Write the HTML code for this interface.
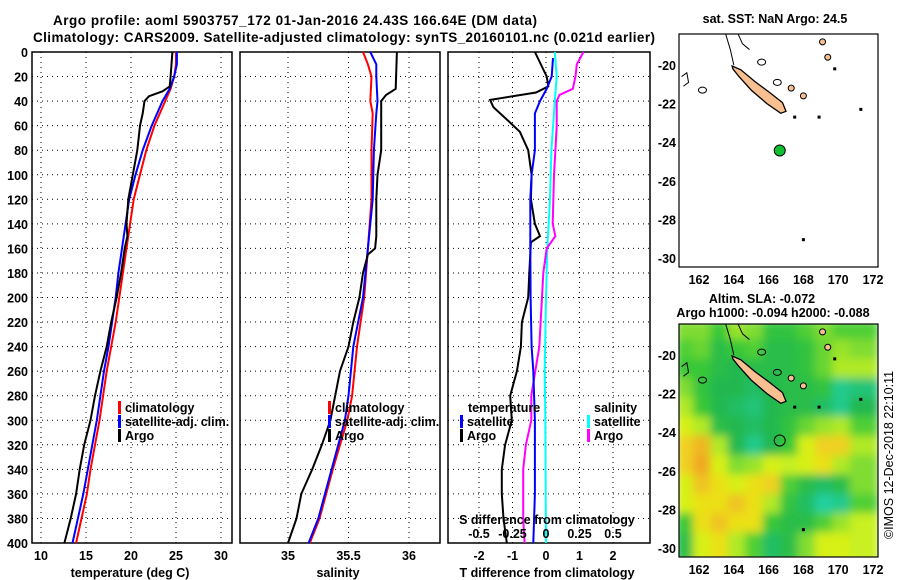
<!DOCTYPE html>
<html><head><meta charset="utf-8"><style>
body{margin:0;background:#fff;}
svg{display:block;font-family:"Liberation Sans",sans-serif;font-weight:bold;}
</style></head><body>
<svg id="c" width="900" height="580" viewBox="0 0 900 580">
<text x="295" y="25" font-size="13.5" text-anchor="middle" textLength="484">Argo profile: aoml 5903757_172 01-Jan-2016 24.43S 166.64E (DM data)</text>
<text x="344" y="42" font-size="13.5" text-anchor="middle" textLength="622">Climatology: CARS2009. Satellite-adjusted climatology: synTS_20160101.nc (0.021d earlier)</text>
</svg>
<script>
// ---- data ----
const depthTicks=[0,20,40,60,80,100,120,140,160,180,200,220,240,260,280,300,320,340,360,380,400];
const tempTicks=[10,15,20,25,30];
const salTicks=[35,35.5,36];
const tdiffTicks=[-2,-1,0,1,2];
const sdiffTicks=[-0.5,-0.25,0,0.25,0.5];
const tClimDepth=[0,10,20,30,40,60,80,100,120,140,160,180,200,220,240,260,280,300,320,340,360,380,400];
const tClim=[25,25,24.8,24.4,23.8,22.6,21.7,21.0,20.3,19.9,19.5,19.1,18.7,18.3,17.8,17.3,16.9,16.5,16.0,15.5,15.1,14.5,13.9];
const tSat=[25.1,25.1,24.8,24.3,23.5,22.3,21.3,20.5,19.8,19.4,19.0,18.6,18.3,17.9,17.5,17.0,16.6,16.2,15.7,15.2,14.7,14.1,13.5];
const tArgoDepth=[0,20,28,32,36,40,50,60,80,100,120,140,150,160,180,200,220,240,260,280,300,320,340,360,380,400];
const tArgo=[24.6,24.4,24.3,23.5,22.0,21.5,21.3,21.0,20.7,20.2,19.7,19.5,19.6,19.3,18.9,18.4,17.8,17.3,16.6,16.0,15.5,14.8,14.3,13.9,13.3,12.6];
const sClimDepth=[0,10,20,40,50,80,120,160,200,240,280,300,340,380,400];
const sClim=[35.62,35.66,35.69,35.68,35.70,35.69,35.69,35.66,35.63,35.57,35.53,35.49,35.37,35.26,35.18];
const sSat=[35.68,35.73,35.73,35.74,35.73,35.71,35.70,35.66,35.62,35.54,35.50,35.47,35.36,35.25,35.17];
const sArgoDepth=[0,30,35,40,60,80,100,120,150,160,165,180,200,220,240,260,280,300,320,340,360,380,400];
const sArgo=[35.90,35.89,35.81,35.77,35.77,35.77,35.74,35.73,35.73,35.72,35.66,35.62,35.59,35.54,35.50,35.43,35.39,35.35,35.28,35.20,35.11,35.07,35.00];
const dArgoTDepth=[0,20,28,33,39,45,55,65,80,100,120,140,150,155,180,200,220,240,260,280,300,320,340,360,380,400];
const dArgoT=[-0.33,0.02,0.07,-0.3,-1.67,-1.57,-1.17,-0.78,-0.53,-0.43,-0.45,-0.33,-0.18,-0.45,-0.5,-0.53,-0.72,-0.75,-0.87,-1.07,-1.02,-1.22,-1.32,-1.32,-1.27,-1.17];
const dSatTDepth=[5,20,30,40,50,80,100,120,160,200,240,260,300,360,400];
const dSatT=[0.21,0.17,0.02,-0.18,-0.33,-0.33,-0.43,-0.47,-0.47,-0.46,-0.43,-0.38,-0.33,-0.33,-0.38];
const dSatSDepth=[0,20,40,80,120,160,200,260,300,400];
const dSatS=[0.066,0.08,0.066,0.04,0.03,0.01,0.0,-0.01,-0.005,0.0];
const dArgoSDepth=[0,10,20,30,35,40,60,80,100,140,150,160,180,200,240,260,280,300,320,340,360,380,400];
const dArgoS=[0.28,0.23,0.22,0.2,0.1,0.08,0.08,0.07,0.06,0.05,0.07,0.005,-0.02,-0.03,-0.05,-0.08,-0.11,-0.11,-0.15,-0.17,-0.17,-0.17,-0.16];
const latTicks=[-20,-22,-24,-26,-28,-30];
const lonTicks=[162,164,166,168,170,172];
const argoLon=166.64, argoLat=-24.43;
const slaLats=[-19,-20,-21,-22,-23,-24,-25,-26,-27,-28,-29,-30];
const slaLons=[161.5,162.5,163.5,164.5,165.5,166.5,167.5,168.5,169.5,170.5,171.5];
const slaRows=[
[0.75,0.75,0.6,0.8,0.75,0.55,0.55,0.65,0.75,0.65,0.65],
[0.65,0.7,0.5,0.6,0.65,0.5,0.5,0.55,0.7,0.8,0.75],
[0.6,0.6,0.5,0.45,0.5,0.5,0.5,0.55,0.7,0.85,0.85],
[0.75,0.55,0.45,0.45,0.4,0.45,0.5,0.5,0.55,0.3,0.35],
[0.85,0.6,0.45,0.4,0.35,0.45,0.5,0.5,0.4,0.3,0.45],
[0.95,0.85,0.5,0.45,0.4,0.45,0.55,0.7,0.8,0.85,0.65],
[1.1,1.2,0.85,0.45,0.3,0.45,0.6,0.95,1.1,1.1,0.85],
[1.1,1.3,0.95,0.75,0.8,0.95,0.9,0.95,1.05,0.85,0.75],
[0.95,1.15,1.05,0.95,1.05,1.1,0.65,0.5,0.4,0.5,0.75],
[0.95,1.05,1.05,1.15,1.05,0.85,0.55,0.4,0.25,0.3,0.65],
[0.6,1.05,1.15,1.05,1.05,0.6,0.5,0.5,0.65,0.8,0.9],
[0.5,0.95,1.05,0.85,0.65,0.4,0.5,0.75,0.95,0.95,0.9]];
const ncLons=[163.9,164.4,165.2,166.1,166.8,167.0,166.7,165.9,165.0,164.3,163.95];
const ncLats=[-20.05,-20.25,-20.85,-21.45,-21.95,-22.4,-22.5,-22.0,-21.3,-20.6,-20.2];

// ---- helpers ----
const NS="http://www.w3.org/2000/svg";
const svg=document.getElementById('c');
function mk(tag,attrs,parent){const e=document.createElementNS(NS,tag);for(const k in attrs)e.setAttribute(k,attrs[k]);(parent||svg).appendChild(e);return e;}
function txt(x,y,s,size,anchor,parent){const t=mk('text',{x:x,y:y,'font-size':size,'text-anchor':anchor||'middle'},parent);t.textContent=s;return t;}
const yD=d=>52+d*491/400;
const TOP=52,BOT=543;
const xT=v=>41+(v-10)*9;
const xS=v=>288+(v-35)*121;
const xDT=v=>546+v*33.5;
const xDS=v=>546+v*134;

function panel(x0,x1,name){
  const r=mk('rect',{x:x0,y:TOP,width:x1-x0,height:BOT-TOP,fill:'#fff',stroke:'#000','stroke-width':1.5});
  
  
  depthTicks.forEach(d=>{if(d>0&&d<400){const l=mk('line',{x1:x0,x2:x1,y1:yD(d),y2:yD(d),stroke:'#000','stroke-width':1,'stroke-dasharray':'1,4'});
    
    }});
}
function vgrid(xs,f){xs.forEach(v=>{const l=mk('line',{x1:f(v),x2:f(v),y1:TOP,y2:BOT,stroke:'#000','stroke-width':1,'stroke-dasharray':'1,4'});
  
  });}
function series(depths,vals,f,color,name){
  const pts=depths.map((d,i)=>f(vals[i]).toFixed(1)+','+yD(d).toFixed(1)).join(' ');
  const p=mk('polyline',{points:pts,fill:'none',stroke:color,'stroke-width':2});
  
  
}
function legend(x,y,color,label,name){
  const g=mk('g',{});
  
  
  mk('rect',{x:x,y:y-11,width:3,height:13,fill:color},g);
  txt(x+7,y,label,12.5,'start',g);
}

// panel 1 temperature
panel(32,232,'temperature-panel');
vgrid(tempTicks,xT);
series(tClimDepth,tClim,xT,'#f00','temp-climatology-line');
series(tClimDepth,tSat,xT,'#00f','temp-satellite-line');
series(tArgoDepth,tArgo,xT,'#000','temp-argo-line');
depthTicks.forEach(d=>{const t=txt(28,yD(d)+5,String(d),12.5,'end');
  
  });
tempTicks.forEach(v=>{const t=txt(xT(v),560,String(v),12.5);
  
  });
{const t=txt(130,577,'temperature (deg C)',12.5);}
legend(118,412,'#f00','climatology','legend-climatology');
legend(118,426,'#00f','satellite-adj. clim.','legend-satellite');
legend(118,440,'#000','Argo','legend-argo');

// panel 2 salinity
panel(240,440,'salinity-panel');
vgrid(salTicks,xS);
series(sClimDepth,sClim,xS,'#f00','sal-climatology-line');
series(sClimDepth,sSat,xS,'#00f','sal-satellite-line');
series(sArgoDepth,sArgo,xS,'#000','sal-argo-line');
salTicks.forEach(v=>{const t=txt(xS(v),560,String(v),12.5);
  
  });
{const t=txt(338,577,'salinity',12.5);}
legend(328,412,'#f00','climatology','legend-climatology-2');
legend(328,426,'#00f','satellite-adj. clim.','legend-satellite-2');
legend(328,440,'#000','Argo','legend-argo-2');

// panel 3 differences
panel(448,650,'difference-panel');
vgrid(tdiffTicks,xDT);
series(dArgoTDepth,dArgoT,xDT,'#000','tdiff-argo-line');
series(dSatSDepth,dSatS,xDS,'#0ff','sdiff-satellite-line');
series(dArgoSDepth,dArgoS,xDS,'#f0f','sdiff-argo-line');
series(dSatTDepth,dSatT,xDT,'#00f','tdiff-satellite-line');
tdiffTicks.forEach(v=>{const t=txt(xDT(v),560,String(v),12.5);
  
  });
sdiffTicks.forEach(v=>{const t=txt(xDS(v),538,String(v),12.5);
  
  });
{const t=txt(547,524,'S difference from climatology',12.5);}
{const t=txt(547,577,'T difference from climatology',12.5);}
{const t=txt(468,412,'temperature',12.5,'start');}
{const t=txt(594,412,'salinity',12.5,'start');}
legend(460,426,'#00f','satellite','legend-t-satellite');
legend(460,440,'#000','Argo','legend-t-argo');
legend(587,426,'#0ff','satellite','legend-s-satellite');
legend(587,440,'#f0f','Argo','legend-s-argo');

// ---- maps ----
const mX=lon=>699+(lon-162)*17.4;
function drawMap(y20,ytop,ybot,id,sla){
  const mY=lat=>y20+(-20-lat)*19.3;
  const g=mk('g',{});
  
  
  const cp=mk('clipPath',{id:'clip'+id},g);
  mk('rect',{x:679,y:ytop,width:199,height:ybot-ytop},cp);
  const inner=mk('g',{'clip-path':'url(#clip'+id+')'},g);
  if(sla){
    const f=mk('filter',{id:'blur'+id,x:'-10%',y:'-10%',width:'120%',height:'120%'},g);
    mk('feGaussianBlur',{stdDeviation:4.5},f);
    const sg=mk('g',{filter:'url(#blur'+id+')'},inner);
    const col=v=>{const stops=[[0.25,[32,208,160]],[0.45,[36,184,80]],[0.6,[56,200,56]],[0.75,[128,220,48]],[0.9,[200,240,32]],[1.0,[230,240,16]],[1.1,[240,208,32]],[1.25,[240,168,32]]];
      if(v<=stops[0][0])return 'rgb('+stops[0][1]+')';
      for(let i=1;i<stops.length;i++){if(v<=stops[i][0]){const a=stops[i-1],b=stops[i],t=(v-a[0])/(b[0]-a[0]);return 'rgb('+a[1].map((c,k)=>Math.round(c+(b[1][k]-c)*t)).join(',')+')';}}
      return 'rgb('+stops[stops.length-1][1]+')';};
    slaRows.forEach((row,ri)=>row.forEach((v,ci)=>{
      const lat=slaLats[ri],lon=slaLons[ci];
      const r=mk('rect',{x:mX(lon-0.5)-6,y:mY(lat+0.5)-6,width:17.4+12,height:19.3+12,fill:col(v)},sg);
      
      
    }));
  }
  const coast=mk('polyline',{points:[[163.5,-18.3],[163.8,-19.2],[164.0,-20.0]].map(p=>mX(p[0])+','+mY(p[1])).join(' '),fill:'none',stroke:'#000','stroke-width':1},inner);
  
  
  mk('polyline',{points:[[164.2,-18.3],[164.5,-18.9],[164.9,-19.2]].map(p=>mX(p[0])+','+mY(p[1])).join(' '),fill:'none',stroke:'#000','stroke-width':1},inner);
  mk('polyline',{points:[[161,-20.6],[161.3,-20.4],[161.4,-20.9],[161.1,-21.1]].map(p=>mX(p[0])+','+mY(p[1])).join(' '),fill:'none',stroke:'#000','stroke-width':1},inner);
  const nc=mk('polygon',{points:ncLons.map((lo,i)=>mX(lo).toFixed(1)+','+mY(ncLats[i]).toFixed(1)).join(' '),fill:'#f8c090',stroke:'#000','stroke-width':1.3},inner);
  
  
  [[169.1,-18.8],[169.4,-19.6],[167.3,-21.2],[168.0,-21.6]].forEach(p=>{
    const e=mk('ellipse',{cx:mX(p[0]),cy:mY(p[1]),rx:3,ry:3,fill:'#f8c090',stroke:'#000','stroke-width':1},inner);
    
    });
  [[165.6,-19.85],[166.5,-20.9],[162.2,-21.3]].forEach(p=>{
    const e=mk('ellipse',{cx:mX(p[0]),cy:mY(p[1]),rx:4,ry:3,fill:'none',stroke:'#000','stroke-width':1},inner);
    
    });
  [[167.5,-22.7],[168.0,-29.05],[169.8,-20.2],[168.9,-22.7],[171.3,-22.3]].forEach(p=>{
    const e=mk('rect',{x:mX(p[0])-1.5,y:mY(p[1])-1.5,width:3,height:3,fill:'#000'},inner);
    
    });
  const m=mk('circle',{cx:mX(argoLon),cy:mY(argoLat),r:5.5,fill:sla?'none':'#10c030',stroke:'#000','stroke-width':1},inner);
  
  
  const fr=mk('rect',{x:679,y:ytop,width:199,height:ybot-ytop,fill:'none',stroke:'#000','stroke-width':1.2},g);
  
  
  latTicks.forEach(l=>{const t=txt(676,mY(l)+5,String(l),12.5,'end',g);
    
    });
  lonTicks.forEach(l=>{const t=txt(mX(l),ybot+17,String(l),12.5,'middle',g);
    
    });
}
drawMap(65,34,267,'sst-map',false);
drawMap(355,324,557,'sla-map',true);
{const t=txt(775,23,'sat. SST: NaN Argo: 24.5',12.5);}
{const t=txt(762,303,'Altim. SLA: -0.072',12.5);}
{const t=txt(773,317,'Argo h1000: -0.094 h2000: -0.088',12.5);}
{const t=txt(0,0,'©IMOS 12-Dec-2018 22:10:11',12.5,'middle');t.setAttribute('transform','translate(893,455) rotate(-90)');t.setAttribute('font-weight','normal');
 }
</script>
</body></html>
